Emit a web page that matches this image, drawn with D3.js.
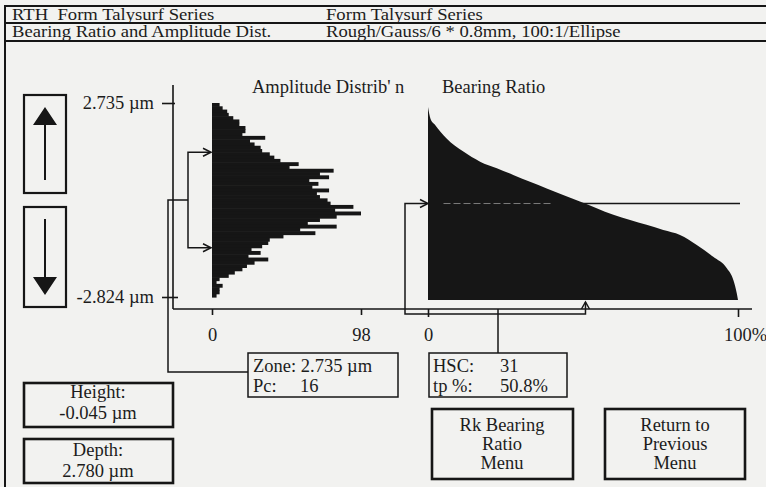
<!DOCTYPE html>
<html>
<head>
<meta charset="utf-8">
<script src="https://cdn.jsdelivr.net/npm/d3@7"></script>
<style>
  body { margin: 0; background: #f2f2f0; }
  text { font-family: "Liberation Serif", "Times New Roman", serif; fill: #1c1c1c; white-space: pre; }
</style>
</head>
<body>
<svg id="chart" width="766" height="487"></svg>
<script>
// amplitude distribution: counts per level band, from top (2.735) to bottom (-2.824)
const ampCounts = [5, 7, 10, 11, 14, 18, 18, 22, 22, 20, 35, 25, 28, 32, 33, 38, 41, 45, 57, 51,
  80, 71, 77, 64, 70, 66, 77, 69, 71, 76, 78, 93, 81, 98, 82, 71, 63, 82, 58, 68,
  47, 38, 37, 33, 26, 32, 24, 37, 28, 23, 20, 15, 11, 5, 3, 7, 5, 5, 3];
// bearing ratio curve: tp % and level (um)
const bearingTp = [0, 0.8, 2.3, 6.0, 11.4, 16.8, 22.2, 27.5, 32.9, 38.3, 43.6, 49.0, 54.4,
  59.8, 65.2, 70.5, 75.9, 81.3, 86.7, 92.0, 96.4, 98.5, 99.6, 100];
const bearingHt = [2.735, 2.40, 2.22, 1.83, 1.45, 1.16, 0.97, 0.78, 0.58, 0.39, 0.20, 0.01, -0.18,
  -0.37, -0.52, -0.66, -0.81, -0.95, -1.24, -1.58, -1.91, -2.25, -2.63, -2.824];
const zLimits = [-2.824, 2.735];
const countTicks = [0, 98];
const tpTicks = [0, 100];
const heightVal = -0.045, depthVal = 2.780, zoneVal = 2.735, pcVal = 16, hscVal = 31, tpVal = 50.8;
const headerLeft = ["RTH  Form Talysurf Series", "Bearing Ratio and Amplitude Dist."];
const headerRight = ["Form Talysurf Series", "Rough/Gauss/6 * 0.8mm, 100:1/Ellipse"];

const svg = d3.select("#chart");
const ink = "#161616";
const fs = 18.5;
const fmt3 = d => d3.format(".3f")(d).replace("\u2212", "-");

// frame + header rows
svg.append("path")
  .attr("d", "M5,487 V6 H770 M5,23 H770 M5,41 H770")
  .attr("fill", "none").attr("stroke", ink).attr("stroke-width", 2);
headerLeft.forEach((t, i) => {
  const y = 19.5 + i * 17.5;
  svg.append("text").attr("transform", `translate(12,${y}) scale(1.13,1)`).attr("font-size", 16.5).text(t);
  svg.append("text").attr("transform", `translate(326,${y}) scale(1.13,1)`).attr("font-size", 16.5).text(headerRight[i]);
});

// scales
const hx = d3.scaleLinear().domain([0, 98]).range([212, 361]);
const hy = d3.scaleLinear().domain(zLimits).range([297, 103]);
const bx = d3.scaleLinear().domain([0, 100]).range([428, 738]);
const by = d3.scaleLinear().domain(zLimits).range([300, 107]);

// titles
svg.append("text").attr("x", 252).attr("y", 93).attr("font-size", fs).text("Amplitude Distrib' n");
svg.append("text").attr("x", 442).attr("y", 93).attr("font-size", fs).text("Bearing Ratio");

// histogram bars
const step = (zLimits[1] - zLimits[0]) / ampCounts.length;
svg.append("g").selectAll("rect")
  .data(ampCounts)
  .join("rect")
  .attr("x", hx(0))
  .attr("y", (d, i) => hy(zLimits[1] - i * step))
  .attr("width", d => hx(d) - hx(0))
  .attr("height", (d, i) => hy(zLimits[1] - (i + 1) * step) - hy(zLimits[1] - i * step) + 0.6)
  .attr("fill", ink);

// axes lines
svg.append("path")
  .attr("d", "M173,85 V309 M173,309 H752")
  .attr("fill", "none").attr("stroke", ink).attr("stroke-width", 1.6);

const yAxis = svg.append("g").attr("transform", "translate(173,0)")
  .call(d3.axisLeft(hy).tickValues(zLimits.slice().reverse()).tickSize(11).tickPadding(8)
    .tickFormat(d => fmt3(d) + " µm"));
const hAxis = svg.append("g").attr("transform", "translate(0,309)")
  .call(d3.axisBottom(hx).tickValues(countTicks).tickSize(6).tickSizeOuter(0));
const bAxis = svg.append("g").attr("transform", "translate(0,309)")
  .call(d3.axisBottom(bx).tickValues(tpTicks).tickSize(8).tickSizeOuter(0)
    .tickFormat(d => d === 100 ? "100%" : d));
[yAxis, hAxis, bAxis].forEach(a => {
  a.select(".domain").remove();
  a.selectAll("line").attr("stroke", ink).attr("stroke-width", 1.6);
  a.selectAll("text").attr("font-size", fs).attr("font-family", "Liberation Serif, serif").attr("fill", "#1c1c1c");
});
yAxis.selectAll(".tick line").attr("x1", d => d === zLimits[0] ? 5 : 2);
hAxis.selectAll("text").attr("y", 19);
bAxis.selectAll("text").attr("y", 19).attr("dx", d => d === 100 ? 7 : 0);

// bearing ratio: slice line then filled curve
const sliceY = by(heightVal);
svg.append("line").attr("x1", bx(0)).attr("x2", bx(100) + 2).attr("y1", sliceY).attr("y2", sliceY)
  .attr("stroke", ink).attr("stroke-width", 1.5);
const bearing = bearingTp.map((t, i) => ({ tp: t, h: bearingHt[i] }));
svg.append("path")
  .datum(bearing)
  .attr("d", d3.area().x(d => bx(d.tp)).y0(by(zLimits[0])).y1(d => by(d.h)).curve(d3.curveMonotoneX))
  .attr("fill", ink);
svg.append("line").attr("x1", bx(5)).attr("x2", bx(40)).attr("y1", sliceY).attr("y2", sliceY)
  .attr("stroke", "#7a7a7a").attr("stroke-width", 1).attr("stroke-dasharray", "7,3");

// connectors and arrows
const chevR = (x, y) => `M${x - 8},${y - 4} L${x},${y} L${x - 8},${y + 4}`;
const chevU = (x, y) => `M${x - 4},${y + 7} L${x},${y} L${x + 4},${y + 7}`;
const zUp = hy(heightVal + zoneVal / 2), zLo = hy(heightVal - zoneVal / 2), zMid = hy(heightVal);
const lines = svg.append("g").attr("fill", "none").attr("stroke", ink).attr("stroke-width", 1.5);
lines.append("path").attr("d", `M248,372 H168 V${zMid} H188 M210,${zUp} H188 V${zLo} H210`);
lines.append("path").attr("d", chevR(211, zUp) + chevR(211, zLo));
lines.append("path").attr("d", `M${bx(0) - 1},${sliceY} H405 V314 H${bx(tpVal)} V302`);
lines.append("path").attr("d", chevR(bx(0), sliceY) + chevU(bx(tpVal), 302));

// boxes
function box(x, y, w, h, sw) {
  svg.append("rect").attr("x", x).attr("y", y).attr("width", w).attr("height", h)
    .attr("fill", "none").attr("stroke", ink).attr("stroke-width", sw);
}
function label(x, y, t, anchor) {
  svg.append("text").attr("x", x).attr("y", y).attr("font-size", fs)
    .attr("text-anchor", anchor || "start").text(t);
}
// arrow buttons
box(24, 95, 42, 98, 2.2);
box(24, 207, 42, 100, 2.2);
svg.append("path").attr("d", "M45,124 V180 M45,219 V278").attr("stroke", ink).attr("stroke-width", 2);
svg.append("path").attr("d", "M45,107 L57,125 L33,125 Z M45,295 L57,277 L33,277 Z").attr("fill", ink);

// zone box
box(248, 353, 150, 44, 1.5);
label(253, 372, "Zone: " + fmt3(zoneVal) + " µm");
label(253, 392, "Pc:");
label(300, 392, String(pcVal));

// hsc box
const hscX = 429, hscW = 138;
box(hscX, 353, hscW, 44, 1.5);
lines.append("path").attr("d", `M${hscX + hscW / 2},309 V353`);
label(433, 372, "HSC:");
label(500, 372, String(hscVal));
label(433, 392, "tp %:");
label(500, 392, d3.format(".1f")(tpVal) + "%");

// height / depth
box(24, 383, 149, 44, 2.6);
label(98, 398, "Height:", "middle");
label(98, 419, fmt3(heightVal) + " µm", "middle");
box(24, 439, 149, 44, 2.6);
label(98, 456, "Depth:", "middle");
label(98, 477, fmt3(depthVal) + " µm", "middle");

// menu buttons
box(432, 409, 141, 70, 2.6);
["Rk Bearing", "Ratio", "Menu"].forEach((t, i) => label(502, 431 + i * 19, t, "middle"));
box(605, 409, 140, 70, 2.6);
["Return to", "Previous", "Menu"].forEach((t, i) => label(675, 431 + i * 19, t, "middle"));
</script>
</body>
</html>
